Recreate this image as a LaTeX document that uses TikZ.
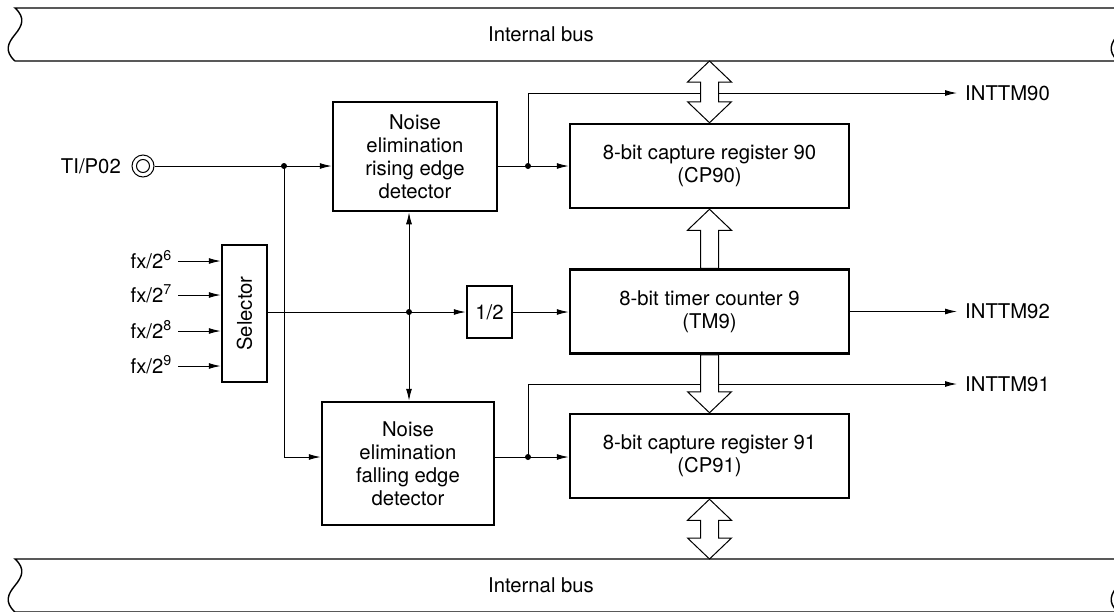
\documentclass[tikz,border=0pt]{standalone}
\usepackage{fontspec}
\setmainfont{TeX Gyre Heros}
\usetikzlibrary{calc,arrows.meta}
\newcommand\hdbl[2]{\draw[hollow] (#1) -- ($(#1)+(22,21)$) -- ($(#1)+(9,21)$) -- ($(#2)+(9,-21)$) -- ($(#2)+(22,-21)$) -- (#2) -- ($(#2)+(-22,-21)$) -- ($(#2)+(-9,-21)$) -- ($(#1)+(-9,21)$) -- ($(#1)+(-22,21)$) -- cycle;}
\newcommand\hup[2]{\draw[hollow] (#1) -- ($(#1)+(22,21)$) -- ($(#1)+(9,21)$) -- ($(#2)+(9,0)$) -- ($(#2)+(-9,0)$) -- ($(#1)+(-9,21)$) -- ($(#1)+(-22,21)$) -- cycle;}
\newcommand\hdown[2]{\draw[hollow] ($(#1)+(-9,0)$) -- ($(#1)+(9,0)$) -- ($(#2)+(9,-21)$) -- ($(#2)+(22,-21)$) -- (#2) -- ($(#2)+(-22,-21)$) -- ($(#2)+(-9,-21)$) -- cycle;}
\begin{document}
\begin{tikzpicture}[x=1pt,y=-1pt,
  every node/.style={font=\fontsize{20.3}{23}\selectfont},
  blk/.style={draw,line width=2.5pt,inner sep=0pt,align=center},
  thin/.style={line width=1pt},
  arr/.style={thin,-{Latex[length=12pt,width=6pt]}},
  hollow/.style={draw,fill=white,line width=1pt,line join=miter},
  bus/.style={draw,line width=1.4pt}]
\useasboundingbox (0,0) rectangle (1114,611);
\clip (0,0) rectangle (1114,611);
% buses
\draw[bus] (15,8) -- (1118,8) .. controls (1129,18) and (1125,26) .. (1118,34.5) .. controls (1111,43) and (1107,51) .. (1118,61) -- (15,61) .. controls (4,51) and (8,43) .. (15,34.5) .. controls (22,26) and (26,18) .. (15,8) -- cycle;
\draw[bus] (15,559) -- (1118,559) .. controls (1129,569) and (1125,577) .. (1118,585.5) .. controls (1111,594) and (1107,602) .. (1118,612) -- (15,612) .. controls (4,602) and (8,594) .. (15,585.5) .. controls (22,577) and (26,569) .. (15,559) -- cycle;
\node (bustop) at (541,34) {Internal bus};
\node (busbot) at (541,585) {Internal bus};
\coordinate (busT) at (0,61);
\coordinate (busB) at (0,559);
% blocks
\node[blk,minimum width=164pt,minimum height=109pt] (rise) at (415,156.5) {Noise\\elimination\\rising edge\\detector};
\node[blk,minimum width=172pt,minimum height=123pt] (fall) at (408,463.5) {Noise\\elimination\\falling edge\\detector};
\node[blk,minimum width=45pt,minimum height=137pt] (sel) at (244.5,313.5) {};
\node[rotate=90] (seltxt) at (sel.center) {Selector};
\node[blk,minimum width=45pt,minimum height=52pt] (half) at (489.5,312) {1/2};
\node[blk,minimum width=279pt,minimum height=84pt] (cp90) at (709.5,166) {8-bit capture register 90\\(CP90)};
\node[blk,minimum width=279pt,minimum height=84pt] (tm9) at (709.5,311.5) {8-bit timer counter 9\\(TM9)};
\node[blk,minimum width=279pt,minimum height=84pt] (cp91) at (709.5,456) {8-bit capture register 91\\(CP91)};
% input pin
\node[circle,draw,thin,minimum size=22pt,inner sep=0pt] (ti) at (143,166) {};
\draw[thin] (ti.center) circle (6.5pt);
\node[anchor=base east,inner sep=0pt] (tilbl) at (121,173) {TI/P02};
% fx inputs
\node[anchor=base east,inner sep=0pt] (f6) at (172,268) {fx/2\textsuperscript{6}};
\node[anchor=base east,inner sep=0pt] (f7) at (172,302) {fx/2\textsuperscript{7}};
\node[anchor=base east,inner sep=0pt] (f8) at (172,338) {fx/2\textsuperscript{8}};
\node[anchor=base east,inner sep=0pt] (f9) at (172,373) {fx/2\textsuperscript{9}};
\coordinate (f6a) at (178,261);
\coordinate (f7a) at (178,295);
\coordinate (f8a) at (178,331);
\coordinate (f9a) at (178,366);
\foreach \c in {f6a,f7a,f8a,f9a} \draw[arr] (\c) -- (\c -| sel.west);
% junctions and outputs
\coordinate (j1) at (284,166);
\coordinate (j2) at (409,312);
\coordinate (j3) at (528,166);
\coordinate (j4) at (528,457);
\coordinate (o90) at (957,93);
\coordinate (o92) at (957,311.5);
\coordinate (o91) at (957,384);
\node[anchor=west,inner sep=0pt] (l90) at (965,93) {INTTM90};
\node[anchor=west,inner sep=0pt] (l92) at (965,311.5) {INTTM92};
\node[anchor=west,inner sep=0pt] (l91) at (965,384) {INTTM91};
% connectors
\draw[arr] (ti.east) -- (ti.east -| rise.west);
\draw[arr] (j1) |- (j4 -| fall.west);
\draw[arr] (sel.east |- j2) -- (j2 -| half.west);
\draw[arr] (j2) -- (j2 |- rise.south);
\draw[arr] (j2) -- (j2 |- fall.north);
\draw[arr] (half.east) -- (half.east -| tm9.west);
\draw[thin] (j3 -| rise.east) -- (j3);
\draw[arr] (j3) -- (j3 -| cp90.west);
\draw[arr] (j3) |- (o90);
\draw[thin] (j4 -| fall.east) -- (j4);
\draw[arr] (j4) -- (j4 -| cp91.west);
\draw[arr] (j4) |- (o91);
\draw[arr] (tm9.east |- o92) -- (o92);
\foreach \c in {j1,j2,j3,j4} \fill (\c) circle (3pt);
% hollow bus arrows
\hdbl{cp90.north |- busT}{cp90.north}
\hup{cp90.south}{tm9.north}
\hdown{tm9.south}{cp91.north}
\hdbl{cp91.south}{cp91.south |- busB}
\end{tikzpicture}
\end{document}
